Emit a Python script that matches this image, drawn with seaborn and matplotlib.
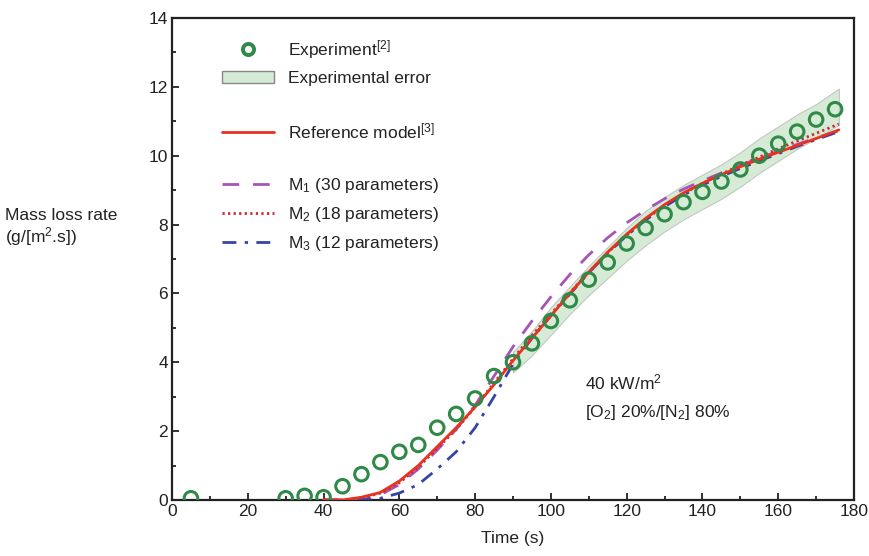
import numpy as np
import pandas as pd
import matplotlib
matplotlib.use("Agg")
import matplotlib.pyplot as plt
from matplotlib.lines import Line2D
from matplotlib.patches import Patch
from matplotlib.ticker import MultipleLocator
import seaborn as sns

# ---- data ----
exp_t = [5, 30, 35, 40, 45, 50, 55, 60, 65, 70, 75, 80, 85, 90, 95, 100, 105, 110,
         115, 120, 125, 130, 135, 140, 145, 150, 155, 160, 165, 170, 175]
exp_v = [0.05, 0.05, 0.12, 0.08, 0.4, 0.75, 1.1, 1.4, 1.6, 2.1, 2.5, 2.95, 3.6, 4.0,
         4.55, 5.2, 5.8, 6.4, 6.9, 7.45, 7.9, 8.3, 8.65, 8.95, 9.25, 9.6, 10.0, 10.35,
         10.7, 11.05, 11.35]

band_t = [90, 95, 100, 105, 110, 115, 120, 125, 130, 135, 140, 145, 150, 155,
          160, 165, 170, 176]
band_lo = [3.7, 4.2, 4.8, 5.4, 5.95, 6.45, 6.95, 7.4, 7.8, 8.15, 8.45, 8.75,
           9.1, 9.5, 9.85, 10.2, 10.5, 10.9]
band_hi = [4.3, 4.9, 5.6, 6.2, 6.8, 7.35, 7.9, 8.4, 8.8, 9.15, 9.45, 9.75,
           10.1, 10.5, 10.85, 11.2, 11.5, 11.95]

mod_t = [40, 45, 50, 55, 60, 65, 70, 75, 80, 85, 90, 95, 100, 105, 110, 115, 120,
         125, 130, 135, 140, 145, 150, 155, 160, 165, 170, 176]
ref_v = [0.0, 0.0, 0.08, 0.22, 0.55, 1.0, 1.55, 2.1, 2.7, 3.35, 4.05, 4.7, 5.35, 6.0,
         6.62, 7.2, 7.72, 8.18, 8.58, 8.92, 9.2, 9.45, 9.68, 9.9, 10.1, 10.3, 10.5, 10.75]
m1_v = [0.0, 0.0, 0.0, 0.15, 0.45, 0.9, 1.45, 2.05, 2.75, 3.6, 4.45, 5.2, 5.9, 6.55,
        7.12, 7.62, 8.05, 8.42, 8.75, 9.03, 9.27, 9.5, 9.72, 9.93, 10.13, 10.33, 10.52,
        10.72]
m2_v = [0.0, 0.0, 0.05, 0.2, 0.5, 0.95, 1.5, 2.05, 2.7, 3.4, 4.1, 4.78, 5.4, 6.02,
        6.62, 7.18, 7.7, 8.15, 8.55, 8.9, 9.2, 9.47, 9.72, 9.96, 10.2, 10.43, 10.65,
        10.92]
m3_v = [0.0, 0.0, 0.0, 0.05, 0.2, 0.45, 0.9, 1.4, 2.1, 3.0, 3.95, 4.7, 5.35, 5.98,
        6.6, 7.17, 7.68, 8.13, 8.52, 8.86, 9.15, 9.4, 9.63, 9.85, 10.06, 10.27, 10.47,
        10.7]

x_ticks = [0, 20, 40, 60, 80, 100, 120, 140, 160, 180]
y_ticks = [0, 2, 4, 6, 8, 10, 12, 14]

# ---- style ----
sns.set_style("ticks")
plt.rcParams["font.family"] = ["Liberation Sans", "DejaVu Sans"]
plt.rcParams["mathtext.fontset"] = "custom"
plt.rcParams["mathtext.rm"] = "Liberation Sans"
plt.rcParams["mathtext.it"] = "Liberation Sans"
plt.rcParams["mathtext.bf"] = "Liberation Sans"

FS = 12.5
C_GREEN = "#2f8a48"
C_RED = "#e8321e"
C_PURPLE = "#a455b5"
C_DOT = "#c8283c"
C_BLUE = "#3444a6"
C_TXT = "#222222"

fig = plt.figure(figsize=(8.7, 5.56), dpi=100)
ax = fig.add_axes([172 / 870, 1 - 500 / 556, (854 - 172) / 870, (500 - 18) / 556])

df_exp = pd.DataFrame({"t": exp_t, "v": exp_v})
df_mod = pd.DataFrame({"t": mod_t, "ref": ref_v, "m1": m1_v, "m2": m2_v, "m3": m3_v})

ax.fill_between(band_t, band_lo, band_hi, facecolor="#d6ebd6", edgecolor="#c0c8c0",
                linewidth=0.8, zorder=1)

sns.lineplot(data=df_mod, x="t", y="ref", ax=ax, color=C_RED, linewidth=2.0, zorder=4)
sns.lineplot(data=df_mod, x="t", y="m1", ax=ax, color=C_PURPLE, linewidth=2.0, zorder=3)
ax.lines[-1].set_dashes([6, 5])
sns.lineplot(data=df_mod, x="t", y="m2", ax=ax, color=C_DOT, linewidth=2.0, zorder=3)
ax.lines[-1].set_linestyle((0, (0.8, 1.2)))
sns.lineplot(data=df_mod, x="t", y="m3", ax=ax, color=C_BLUE, linewidth=2.0, zorder=3)
ax.lines[-1].set_linestyle((0, (5, 3, 1.2, 3)))

sns.scatterplot(data=df_exp, x="t", y="v", ax=ax, marker="o", s=95,
                facecolor="none", edgecolor=C_GREEN, linewidth=2.2, zorder=5)

ax.set_xlim(0, 180)
ax.set_ylim(0, 14)
ax.set_xticks(x_ticks)
ax.set_yticks(y_ticks)
ax.xaxis.set_minor_locator(MultipleLocator(10))
ax.yaxis.set_minor_locator(MultipleLocator(1))
ax.tick_params(which="both", direction="in", top=False, right=False,
               labelsize=FS, colors=C_TXT, width=1.3, pad=3)
ax.tick_params(which="major", length=5)
ax.tick_params(which="minor", length=3)
for s in ax.spines.values():
    s.set_visible(True)
    s.set_linewidth(1.6)
    s.set_color(C_TXT)
ax.set_xlabel("")
ax.set_ylabel("")

fig.text(513 / 870, 1 - 538 / 556, "Time (s)", ha="center", va="center",
         fontsize=FS, color=C_TXT)
fig.text(5 / 870, 1 - 228 / 556, "Mass loss rate\n(g/[m$^2$.s])", ha="left",
         va="center", fontsize=FS, color=C_TXT, linespacing=1.1)

ax.text(109, 3.4, "40 kW/m$^2$", fontsize=FS, color=C_TXT, va="center")
ax.text(109, 2.55, "[O$_2$] 20%/[N$_2$] 80%", fontsize=FS, color=C_TXT,
        va="center")

blank = Line2D([], [], linestyle="none")
handles = [
    Line2D([], [], linestyle="none", marker="o", markersize=8, markerfacecolor="none",
           markeredgecolor=C_GREEN, markeredgewidth=2.8),
    Patch(facecolor="#d6ebd6", edgecolor="#888888", linewidth=1.0),
    blank,
    Line2D([], [], color=C_RED, linewidth=2.0),
    blank,
    Line2D([], [], color=C_PURPLE, linewidth=2.0, dashes=[6, 5]),
    Line2D([], [], color=C_DOT, linewidth=2.0, linestyle=(0, (0.8, 1.2))),
    Line2D([], [], color=C_BLUE, linewidth=2.0, linestyle=(0, (5, 3, 1.2, 3))),
]
labels = [
    "Experiment$^{[2]}$",
    "Experimental error",
    "",
    "Reference model$^{[3]}$",
    "",
    "M$_1$ (30 parameters)",
    "M$_2$ (18 parameters)",
    "M$_3$ (12 parameters)",
]
leg = ax.legend(handles, labels, loc="upper left", bbox_to_anchor=(0.053, 0.988),
                frameon=True, fontsize=FS, handlelength=3.0, handletextpad=0.8,
                labelspacing=0.58, borderpad=0.3)
leg.get_frame().set_facecolor("white")
leg.get_frame().set_edgecolor("none")
leg.get_frame().set_alpha(1.0)
for t in leg.get_texts():
    t.set_color(C_TXT)

fig.savefig("out.png", dpi=100)
